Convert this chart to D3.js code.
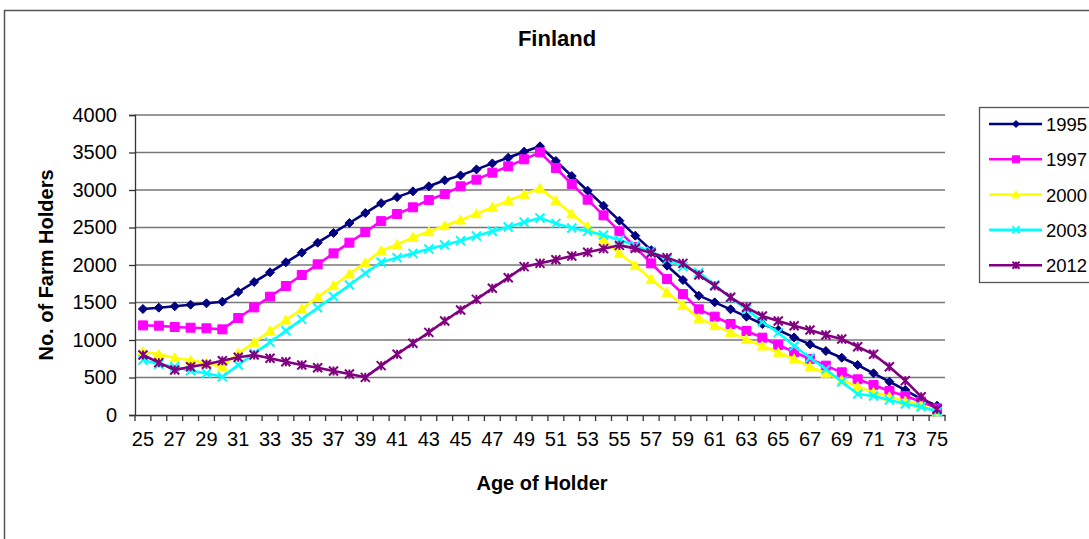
<!DOCTYPE html>
<html>
<head>
<meta charset="utf-8">
<script src="https://cdn.jsdelivr.net/npm/d3@7"></script>
<style>
  html, body { margin: 0; padding: 0; background: #fff; }
  svg { display: block; font-family: "Liberation Sans", Arial, sans-serif; }
</style>
</head>
<body>
<div id="chart"></div>
<script>
// Finland — number of farm holders by age of holder, five survey years

const AGES = d3.range(25, 76);
const YEAR_LABELS = ['1995', '1997', '2000', '2003', '2012'];
const Y_TICKS = [0, 500, 1000, 1500, 2000, 2500, 3000, 3500, 4000];

const V1995 = [1413, 1431, 1449, 1471, 1489, 1511, 1640, 1773, 1902, 2036,
  2165, 2298, 2427, 2560, 2693, 2825, 2905, 2982, 3049, 3129,
  3195, 3275, 3355, 3431, 3511, 3582, 3387, 3186, 2991, 2791,
  2591, 2391, 2198, 1991, 1800, 1591, 1502, 1409, 1311, 1213,
  1133, 1035, 942, 853, 764, 667, 556, 444, 333, 213, 124];
const V1997 = [1195, 1191, 1173, 1164, 1156, 1142, 1293, 1435, 1578, 1720,
  1867, 2009, 2155, 2298, 2440, 2585, 2680, 2769, 2866, 2946,
  3049, 3138, 3231, 3315, 3409, 3502, 3293, 3080, 2871, 2662,
  2449, 2240, 2022, 1813, 1613, 1409, 1311, 1213, 1120, 1031,
  933, 840, 747, 658, 569, 476, 400, 320, 253, 178, 89];
const V2000 = [844, 809, 764, 729, 689, 644, 822, 969, 1120, 1267,
  1413, 1569, 1724, 1880, 2031, 2191, 2275, 2369, 2444, 2524,
  2600, 2684, 2769, 2858, 2942, 3022, 2858, 2680, 2511, 2333,
  2155, 1991, 1811, 1635, 1462, 1289, 1191, 1102, 1009, 920,
  836, 747, 644, 556, 467, 378, 302, 244, 187, 133, 44];
const V2003 = [733, 676, 644, 591, 556, 511, 667, 822, 969, 1124,
  1275, 1431, 1578, 1733, 1889, 2036, 2098, 2155, 2213, 2266,
  2324, 2387, 2449, 2507, 2569, 2627, 2555, 2493, 2449, 2400,
  2333, 2262, 2180, 2075, 1978, 1902, 1733, 1564, 1409, 1244,
  1098, 920, 764, 609, 444, 280, 253, 200, 147, 111, 44];
const V2012 = [800, 698, 600, 644, 676, 724, 769, 800, 756, 711,
  667, 631, 587, 547, 502, 658, 809, 956, 1102, 1253,
  1400, 1542, 1689, 1831, 1978, 2022, 2071, 2120, 2169, 2218,
  2262, 2222, 2160, 2098, 2022, 1867, 1724, 1569, 1436, 1320,
  1253, 1191, 1133, 1067, 1013, 911, 809, 644, 458, 244, 76];

const SERIES = [
  { name: YEAR_LABELS[0], values: V1995, color: '#000080', marker: 'diamond' },
  { name: YEAR_LABELS[1], values: V1997, color: '#FF00FF', marker: 'square' },
  { name: YEAR_LABELS[2], values: V2000, color: '#FFFF00', marker: 'triangle' },
  { name: YEAR_LABELS[3], values: V2003, color: '#00FFFF', marker: 'cross' },
  { name: YEAR_LABELS[4], values: V2012, color: '#800080', marker: 'star' },
];

const W = 1089, H = 539;
const plot = { left: 135, right: 945, top: 115, bottom: 415 };

const svg = d3.select('#chart').append('svg')
  .attr('width', W).attr('height', H);

// outer chart frame (runs off the right and bottom edges)
svg.append('rect')
  .attr('x', 4.5).attr('y', 10.5).attr('width', 1200).attr('height', 700)
  .attr('fill', 'none').attr('stroke', '#555').attr('stroke-width', 1.5);

const x = d3.scaleBand().domain(AGES).range([plot.left, plot.right]);
const y = d3.scaleLinear().domain([0, 4000]).range([plot.bottom, plot.top]);
const cx = a => x(a) + x.bandwidth() / 2;

// gridlines
svg.append('g').selectAll('line')
  .data(Y_TICKS.filter(t => t > 0))
  .join('line')
  .attr('x1', plot.left).attr('x2', plot.right)
  .attr('y1', d => y(d)).attr('y2', d => y(d))
  .attr('stroke', '#777').attr('stroke-width', 1.4);

// y axis
const yAxis = svg.append('g')
  .attr('transform', `translate(${plot.left},0)`)
  .call(d3.axisLeft(y).tickValues(Y_TICKS).tickFormat(d3.format('d'))
    .tickSize(6).tickPadding(12));
yAxis.select('.domain').attr('stroke', '#333').attr('stroke-width', 1.3);
yAxis.selectAll('.tick line').attr('stroke', '#333').attr('stroke-width', 1.3);
yAxis.selectAll('text')
  .attr('font-family', '"Liberation Sans", Arial, sans-serif')
  .attr('font-size', 20).attr('fill', '#000');

// x axis: labels on every other category, ticks between categories
const xAxis = svg.append('g')
  .attr('transform', `translate(0,${plot.bottom})`)
  .call(d3.axisBottom(x).tickSize(0).tickPadding(17)
    .tickFormat(a => (a - 25) % 2 === 0 ? a : ''));
xAxis.select('.domain').attr('stroke', '#333').attr('stroke-width', 1.3);
xAxis.selectAll('text')
  .attr('font-family', '"Liberation Sans", Arial, sans-serif')
  .attr('font-size', 20).attr('fill', '#000');
xAxis.append('g').selectAll('line')
  .data(AGES.map(a => x(a)).concat([plot.right]))
  .join('line')
  .attr('x1', d => d).attr('x2', d => d)
  .attr('y1', 0).attr('y2', 6)
  .attr('stroke', '#333').attr('stroke-width', 1.3);

// markers
function markerPath(type, s) {
  const h = s / 2;
  switch (type) {
    case 'diamond': return `M0,${-h}L${h},0L0,${h}L${-h},0Z`;
    case 'square': return `M${-h},${-h}H${h}V${h}H${-h}Z`;
    case 'triangle': return `M0,${-h}L${h},${h * 0.8}L${-h},${h * 0.8}Z`;
    case 'cross': return `M${-h},${-h}L${h},${h}M${h},${-h}L${-h},${h}`;
    case 'star': return `M${-h},${-h}L${h},${h}M${h},${-h}L${-h},${h}M0,${-h}V${h}`;
  }
}
function drawMarker(sel, s, type, color) {
  const open = type === 'cross' || type === 'star';
  sel.append('path')
    .attr('d', markerPath(type, s))
    .attr('fill', open ? 'none' : color)
    .attr('stroke', color)
    .attr('stroke-width', open ? 2 : 1);
}

const MARK_SIZE = { diamond: 9, square: 9, triangle: 10, cross: 9, star: 9 };

const line = d3.line().x((d, i) => cx(AGES[i])).y(d => y(d));

SERIES.forEach(s => {
  const g = svg.append('g');
  g.append('path')
    .attr('d', line(s.values))
    .attr('fill', 'none')
    .attr('stroke', s.color)
    .attr('stroke-width', 2.6)
    .attr('stroke-linejoin', 'round');
  s.values.forEach((v, i) => {
    const m = g.append('g').attr('transform', `translate(${cx(AGES[i])},${y(v)})`);
    drawMarker(m, MARK_SIZE[s.marker], s.marker, s.color);
  });
});

// title and axis titles
svg.append('text')
  .attr('x', 557).attr('y', 46)
  .attr('text-anchor', 'middle')
  .attr('font-size', 22).attr('font-weight', 'bold')
  .text('Finland');

svg.append('text')
  .attr('x', 542).attr('y', 490)
  .attr('text-anchor', 'middle')
  .attr('font-size', 20).attr('font-weight', 'bold')
  .text('Age of Holder');

svg.append('text')
  .attr('transform', 'translate(53,265) rotate(-90)')
  .attr('text-anchor', 'middle')
  .attr('font-size', 20).attr('font-weight', 'bold')
  .text('No. of Farm Holders');

// legend
const lg = svg.append('g');
lg.append('rect')
  .attr('x', 979.5).attr('y', 107.5).attr('width', 200).attr('height', 175)
  .attr('fill', '#fff').attr('stroke', '#555').attr('stroke-width', 1.3);
SERIES.forEach((s, i) => {
  const ly = 124 + i * 35.3;
  lg.append('line')
    .attr('x1', 989).attr('x2', 1042).attr('y1', ly).attr('y2', ly)
    .attr('stroke', s.color).attr('stroke-width', 2.6);
  const m = lg.append('g').attr('transform', `translate(1016,${ly})`);
  drawMarker(m, MARK_SIZE[s.marker] - 2, s.marker, s.color);
  lg.append('text')
    .attr('x', 1046).attr('y', ly + 7)
    .attr('font-size', 18.5)
    .text(s.name);
});
</script>
</body>
</html>
